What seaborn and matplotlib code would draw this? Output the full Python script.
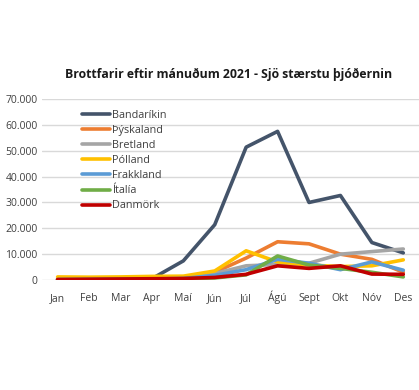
import seaborn as sns
import pandas as pd
import matplotlib.pyplot as plt
from matplotlib.ticker import FuncFormatter

months = ["Jan", "Feb", "Mar", "Apr", "Maí", "Jún", "Júl", "Ágú", "Sept", "Okt", "Nóv", "Des"]
bandarikin = [200, 300, 400, 500, 7400, 21400, 51400, 57500, 30000, 32700, 14500, 10500]
thyskaland = [300, 350, 450, 550, 800, 3000, 8500, 14800, 14000, 10000, 8000, 3000]
bretland = [200, 250, 350, 450, 700, 2500, 5500, 6000, 6500, 10000, 11000, 12000]
polland = [1200, 1100, 1200, 1400, 1500, 3500, 11300, 7000, 5800, 5200, 5500, 7800]
frakkland = [200, 250, 300, 400, 600, 1800, 4000, 8000, 6500, 4000, 7000, 3800]
italia = [100, 150, 250, 350, 500, 800, 2000, 9300, 5800, 4500, 3000, 1200]
danmork = [200, 300, 400, 500, 600, 1000, 2200, 5500, 4500, 5500, 2300, 2200]

series = {
    "Bandaríkin": bandarikin,
    "Þýskaland": thyskaland,
    "Bretland": bretland,
    "Pólland": polland,
    "Frakkland": frakkland,
    "Ítalía": italia,
    "Danmörk": danmork,
}
colors = ["#44546A", "#ED7D31", "#A5A5A5", "#FFC000", "#5B9BD5", "#70AD47", "#C00000"]

rows = []
for name, vals in series.items():
    for m, v in zip(months, vals):
        rows.append({"Mánuður": m, "Fjöldi": v, "Land": name})
df = pd.DataFrame(rows)

sns.set_style("white")
plt.rcParams["font.family"] = ["Open Sans", "DejaVu Sans"]

fig = plt.figure(figsize=(4.19, 3.90), dpi=100)
ax = fig.add_axes([0.1, 0.282, 0.9, 0.464])
sns.lineplot(data=df, x="Mánuður", y="Fjöldi", hue="Land", hue_order=list(series.keys()),
             palette=colors, linewidth=2.6, ax=ax, sort=False)

ax.set_xlim(-0.5, 11.5)
ax.set_ylim(0, 70000)
ax.set_yticks(range(0, 70001, 10000))
ax.yaxis.set_major_formatter(FuncFormatter(lambda v, p: f"{int(v):,}".replace(",", ".")))
ax.grid(axis="y", color="#D9D9D9", linewidth=1)
ax.set_axisbelow(True)
for s in ax.spines.values():
    s.set_visible(False)
ax.tick_params(axis="both", length=0, labelsize=7.5, colors="#404040")
ax.tick_params(axis="y", pad=3)
ax.tick_params(axis="x", pad=15)
for lbl in ax.get_xticklabels():
    lbl.set_verticalalignment("baseline")
ax.set_xlabel("")
ax.set_ylabel("")

leg = ax.legend(loc="upper left", bbox_to_anchor=(0.095, 0.965), frameon=False,
                fontsize=7.8, handlelength=2.6, handletextpad=0.2, labelspacing=0.38,
                borderaxespad=0)
for t in leg.get_texts():
    t.set_color("#404040")

fig.text(0.545, 0.808, "Brottfarir eftir mánuðum 2021 - Sjö stærstu þjóðernin",
         ha="center", va="center", fontsize=8.8, fontweight="bold", color="#1a1a1a")

fig.savefig("out.png", dpi=100)
